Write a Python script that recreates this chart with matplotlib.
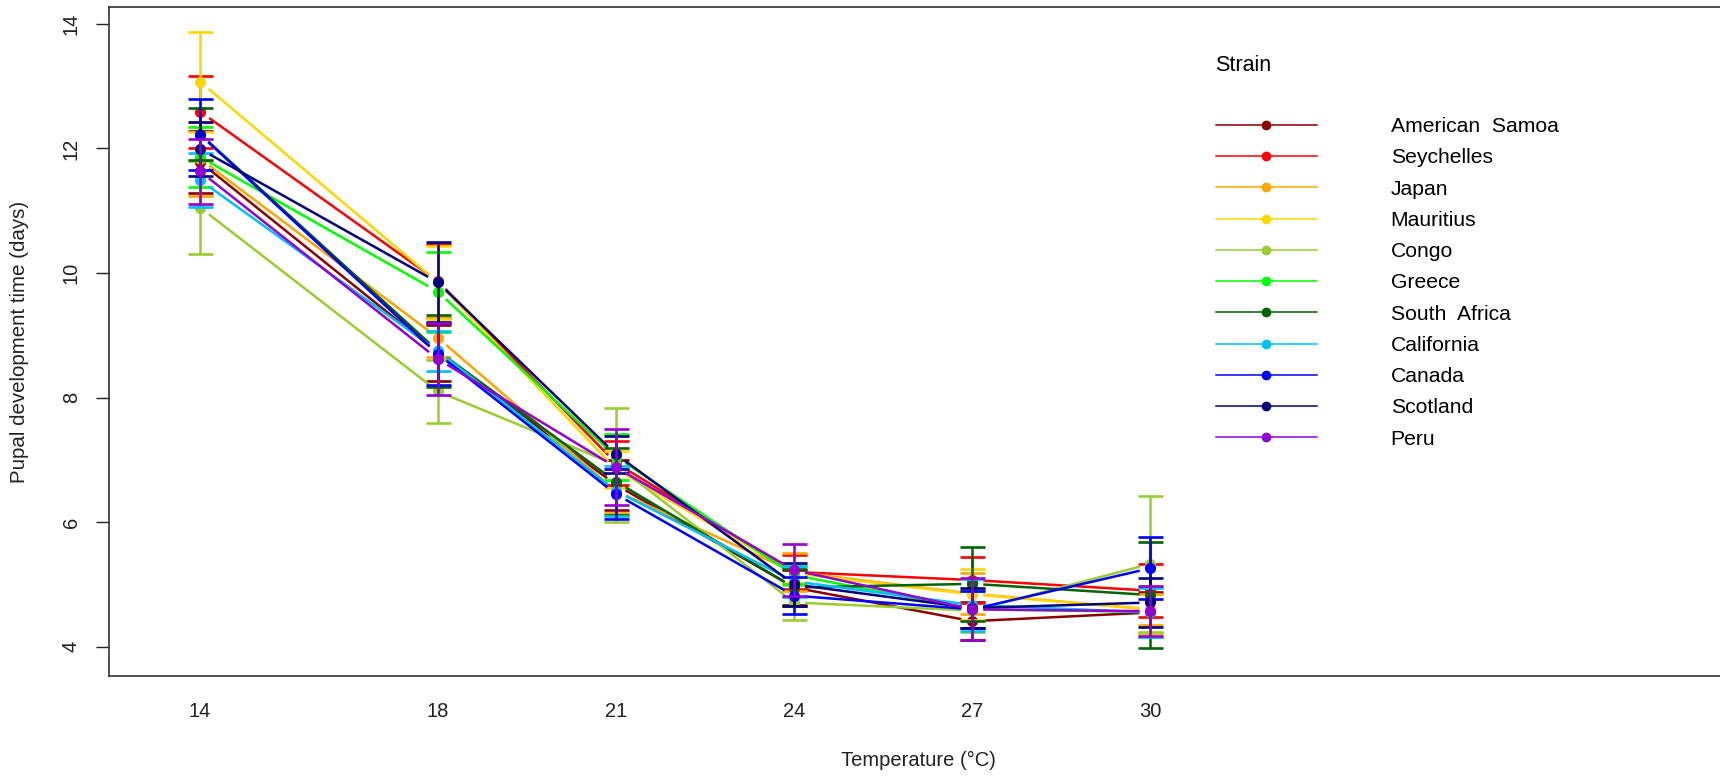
#!/usr/bin/env python3
# pupal development time vs temperature, one line per strain (R type="b" look)
import numpy as np
import matplotlib as mpl

mpl.use("Agg")
from matplotlib import pyplot as plt
from matplotlib import font_manager as fm

mpl.rcParams["font.family"] = ["Liberation Sans", "DejaVu Sans"]

# ─── data ────────────────────────────────────────────────────────────
temps = [14, 18, 21, 24, 27, 30]

strains = [
    "American  Samoa", "Seychelles", "Japan", "Mauritius", "Congo", "Greece",
    "South  Africa", "California", "Canada", "Scotland", "Peru",
]
colors = [
    "#8B0000", "#FF0000", "#FFA500", "#FFD700", "#9ACD32", "#00FF00",
    "#006400", "#00BFFF", "#0000FF", "#000080", "#9400D3",
]

# mean pupal development time (days) at each temperature
am_samoa = [11.78, 8.72, 6.60, 4.95, 4.41, 4.55]
seychelles = [12.59, 9.87, 6.95, 5.20, 5.07, 4.90]
japan = [11.83, 8.96, 6.50, 5.20, 4.85, 4.60]
mauritius = [13.07, 9.85, 6.85, 5.18, 4.84, 4.60]
congo = [11.05, 8.10, 6.92, 4.71, 4.58, 5.33]
greece = [11.86, 9.70, 7.05, 5.15, 4.60, 4.56]
s_africa = [12.23, 8.75, 6.65, 4.95, 5.01, 4.83]
california = [11.49, 8.75, 6.50, 5.05, 4.67, 4.55]
canada = [12.22, 8.70, 6.45, 4.82, 4.60, 5.26]
scotland = [11.99, 9.85, 7.09, 5.00, 4.62, 4.71]
peru = [11.63, 8.62, 6.88, 5.23, 4.60, 4.57]

# error bar half-widths
am_samoa_err = [0.50, 0.45, 0.40, 0.28, 0.30, 0.33]
seychelles_err = [0.58, 0.60, 0.35, 0.27, 0.37, 0.42]
japan_err = [0.60, 0.31, 0.35, 0.31, 0.33, 0.25]
mauritius_err = [0.80, 0.59, 0.30, 0.15, 0.41, 0.38]
congo_err = [0.75, 0.51, 0.92, 0.28, 0.35, 1.09]
greece_err = [0.48, 0.64, 0.37, 0.15, 0.30, 0.40]
s_africa_err = [0.42, 0.58, 0.54, 0.30, 0.59, 0.85]
california_err = [0.43, 0.32, 0.40, 0.25, 0.42, 0.40]
canada_err = [0.57, 0.50, 0.40, 0.30, 0.30, 0.50]
scotland_err = [0.43, 0.64, 0.30, 0.35, 0.32, 0.39]
peru_err = [0.52, 0.58, 0.61, 0.42, 0.50, 0.40]

means = [am_samoa, seychelles, japan, mauritius, congo, greece,
         s_africa, california, canada, scotland, peru]
errs = [am_samoa_err, seychelles_err, japan_err, mauritius_err, congo_err,
        greece_err, s_africa_err, california_err, canada_err, scotland_err,
        peru_err]

yticks = [4, 6, 8, 10, 12, 14]


def narrow_family():
    try:
        fm.findfont(fm.FontProperties(family="Liberation Sans Narrow"),
                    fallback_to_default=False)
        return ["Liberation Sans Narrow"], 16.5
    except Exception:
        return ["Liberation Sans"], 14.5


def gapped_segments(ax, xs, ys, gap):
    """Segments between consecutive points, cut back by `gap` pixels at both ends."""
    pts = ax.transData.transform(np.column_stack([xs, ys]))
    inv = ax.transData.inverted()
    out = []
    for p0, p1 in zip(pts[:-1], pts[1:]):
        d = p1 - p0
        u = d / np.hypot(*d)
        out.append(inv.transform(np.array([p0 + u * gap, p1 - u * gap])))
    return out


# ─── plotting ────────────────────────────────────────────────────────
W, H = 1720, 777
fig = plt.figure(figsize=(W / 100, H / 100), dpi=100)
ax = fig.add_axes([109.3 / W, 1 - 676 / H, (1729 - 109.3) / W, 669 / H])
ax.set_xlim(12.47, 39.74)
ax.set_ylim(3.53, 14.27)

for i, (name, c, m, e) in enumerate(zip(strains, colors, means, errs)):
    z = 2 + i * 0.1
    for seg in gapped_segments(ax, temps, m, 11):
        ax.plot(seg[:, 0], seg[:, 1], color=c, lw=1.8, zorder=z,
                solid_capstyle="butt")
    ax.errorbar(temps, m, yerr=e, fmt="none", ecolor=c, elinewidth=1.8,
                capsize=9, capthick=1.9, zorder=z + 0.02)
    ax.plot(temps, m, "o", color=c, ms=7, zorder=z + 0.05)
    # legend proxy
    ax.plot([], [], "-o", color=c, lw=1.1, ms=6, label=name)

# axes styling, R-like box
for s in ax.spines.values():
    s.set_linewidth(1.2)
    s.set_color("#333333")

fam, xsize = narrow_family()
ax.set_xticks(temps)
ax.set_xticklabels([str(t) for t in temps], family=fam, fontsize=xsize)
ax.tick_params(axis="x", length=0, pad=19, colors="#222222")
ax.set_yticks(yticks)
ax.set_yticklabels([str(v) for v in yticks], rotation=90, va="center",
                   fontsize=14.5)
ax.tick_params(axis="y", length=9.4, width=1.0, pad=11, colors="#222222")

ax.set_xlabel("Temperature (°C)", family=fam, fontsize=xsize, va="center",
              color="#222222")
ax.xaxis.set_label_coords((918 - 109.3) / 1619.7, -(760 - 676) / 669)
ax.set_ylabel("Pupal development time (days)", fontsize=14.8, va="center",
              color="#222222")
ax.yaxis.set_label_coords((20 - 109.3) / 1619.7, 0.5)

leg = ax.legend(
    title="Strain", loc="upper left",
    bbox_to_anchor=(1205 / W, 1 - 44 / H), bbox_transform=fig.transFigure,
    frameon=False, fontsize=15.2, title_fontsize=15.5, alignment="left",
    handlelength=4.79, handletextpad=3.5, labelspacing=0.58, borderpad=0,
)
leg._legend_box.sep = 30

fig.savefig("out.png", dpi=100)
